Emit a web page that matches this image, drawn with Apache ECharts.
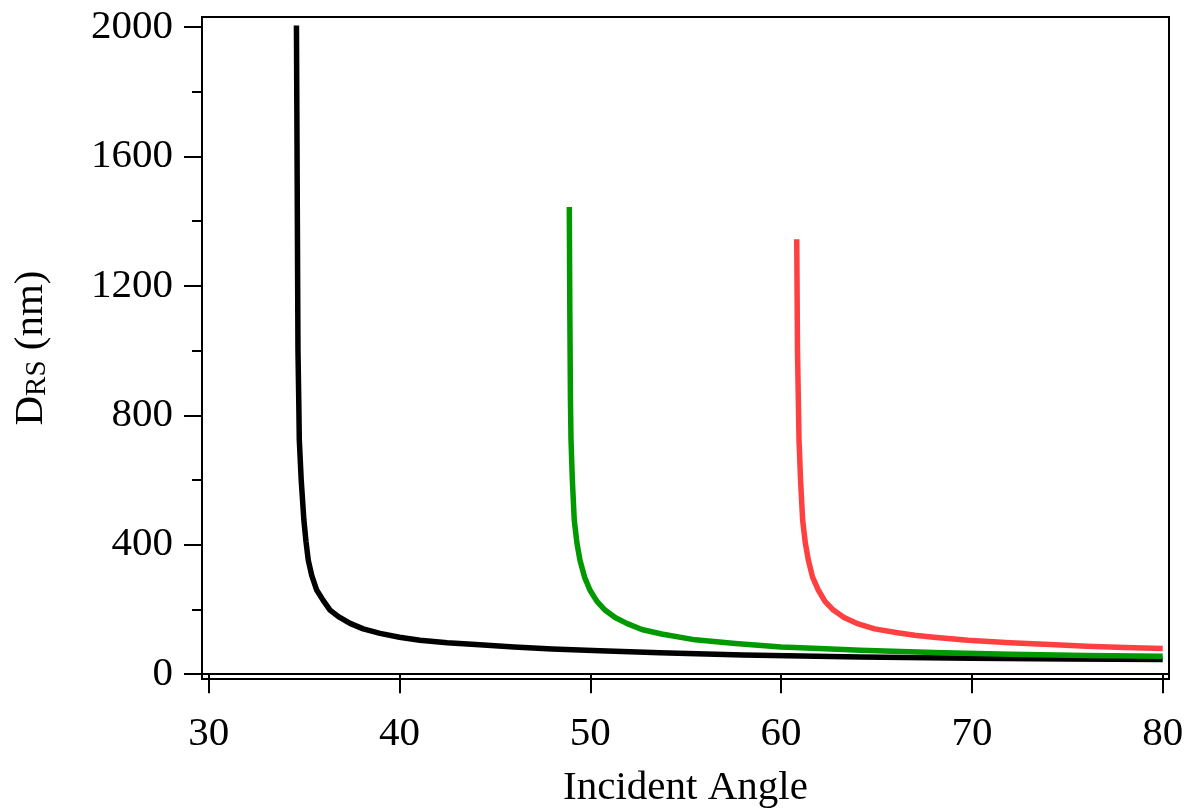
<!DOCTYPE html>
<html>
<head>
<meta charset="utf-8">
<script src="https://cdn.jsdelivr.net/npm/echarts@6/dist/echarts.min.js"></script>
<style>
html,body{margin:0;padding:0;background:#fff;}
#chart{width:1190px;height:810px;}
</style>
</head>
<body>
<div id="chart"></div>
<script>
// Data
const blackAngle = [34.60, 34.64, 34.68, 34.72, 34.75, 34.85, 34.99, 35.10, 35.22, 35.40, 35.66, 36.00, 36.36, 36.80, 37.41, 38.10, 38.98, 40.00, 41.07, 42.50, 44.20, 46.00, 48.00, 50.50, 53.65, 58.00, 64.15, 70.00, 75.00, 80.00];
const blackDrs   = [2005, 1500, 1000, 850, 723, 600, 476, 410, 352, 305, 260, 228, 198, 178, 157, 140, 126, 114, 105, 97, 91, 84, 78, 72, 66, 59, 53, 49, 47, 45];

const greenAngle = [48.90, 48.93, 48.96, 48.99, 49.06, 49.16, 49.30, 49.46, 49.70, 49.98, 50.35, 50.77, 51.30, 51.91, 52.70, 53.74, 55.50, 57.60, 60.00, 62.00, 64.15, 68.00, 72.00, 76.00, 80.00];
const greenDrs   = [1444, 1100, 850, 723, 600, 476, 405, 352, 300, 260, 225, 198, 175, 157, 138, 124, 106, 95, 84, 79, 74, 67, 61.5, 58, 55.6];

const redAngle = [60.82, 60.86, 60.94, 61.02, 61.13, 61.27, 61.43, 61.65, 61.95, 62.30, 62.74, 63.30, 63.96, 64.90, 66.10, 67.00, 68.00, 69.80, 72.00, 74.10, 76.00, 78.00, 80.00];
const redDrs   = [1344, 1000, 723, 600, 476, 405, 352, 300, 260, 225, 198, 175, 157, 140, 128, 120, 114, 105, 97, 91.5, 86.5, 82.5, 79.4];

const xTicks = [30, 40, 50, 60, 70, 80];
const yMajorTicks = [0, 400, 800, 1200, 1600, 2000];
const yMinorTicks = [200, 600, 1000, 1400, 1800];

const xMin = 29.65, xMax = 80.33;
const yMin = -15, yMax = 2031;

function pairs(xs, ys) { return xs.map((x, i) => [x, ys[i]]); }

const font = 'Liberation Serif, "Times New Roman", serif';
const chart = echarts.init(document.getElementById('chart'), null, {renderer: 'canvas'});

const lineSeries = (name, xs, ys, color) => ({
  name, type: 'line', data: pairs(xs, ys),
  showSymbol: false, smooth: false,
  lineStyle: {color, width: 5.5, join: 'round', cap: 'butt'}, itemStyle: {color},
  xAxisIndex: 0, yAxisIndex: 0, z: 3, animation: false
});

chart.setOption({
  backgroundColor: '#fff',
  animation: false,
  grid: {left: 202, top: 17, right: 21, bottom: 131, show: true, borderColor: '#000', borderWidth: 2,
    backgroundColor: 'transparent', containLabel: false, outerBoundsMode: 'none'},
  xAxis: [{
    type: 'value', min: xMin, max: xMax,
    name: 'Incident Angle', nameLocation: 'middle', nameGap: 89,
    nameTextStyle: {fontFamily: font, fontSize: 41, color: '#000'},
    axisLine: {show: true, lineStyle: {color: '#000', width: 2}},
    axisTick: {show: true, inside: false, length: 19, lineStyle: {color: '#000', width: 2}, customValues: xTicks},
    axisLabel: {show: true, margin: 35, fontFamily: font, fontSize: 41, color: '#000', customValues: xTicks,
      formatter: v => String(Math.round(v))},
    splitLine: {show: false}
  }],
  yAxis: [{
    type: 'value', min: yMin, max: yMax,
    name: '{d|D}{s|RS}{d| (nm)}', nameLocation: 'middle', nameGap: 150, nameRotate: 90,
    nameTextStyle: {fontFamily: font, fontSize: 41, color: '#000',
      rich: {
        d: {fontFamily: font, fontSize: 41, lineHeight: 41, color: '#000'},
        s: {fontFamily: font, fontSize: 29, lineHeight: 16, verticalAlign: 'bottom', color: '#000'}
      }},
    axisLine: {show: true, lineStyle: {color: '#000', width: 2}},
    axisTick: {show: true, inside: false, length: 18, lineStyle: {color: '#000', width: 2}, customValues: yMajorTicks},
    axisLabel: {show: true, margin: 29, fontFamily: font, fontSize: 41, color: '#000', customValues: yMajorTicks,
      formatter: v => String(Math.round(v))},
    splitLine: {show: false}
  }, {
    type: 'value', min: yMin, max: yMax, position: 'left',
    axisLine: {show: false},
    axisTick: {show: true, inside: false, length: 10, lineStyle: {color: '#000', width: 2}, customValues: yMinorTicks},
    axisLabel: {show: false},
    splitLine: {show: false}
  }],
  series: [
    lineSeries('black', blackAngle, blackDrs, '#000000'),
    lineSeries('green', greenAngle, greenDrs, '#009900'),
    lineSeries('red', redAngle, redDrs, '#ff4040')
  ]
});
</script>
</body>
</html>
